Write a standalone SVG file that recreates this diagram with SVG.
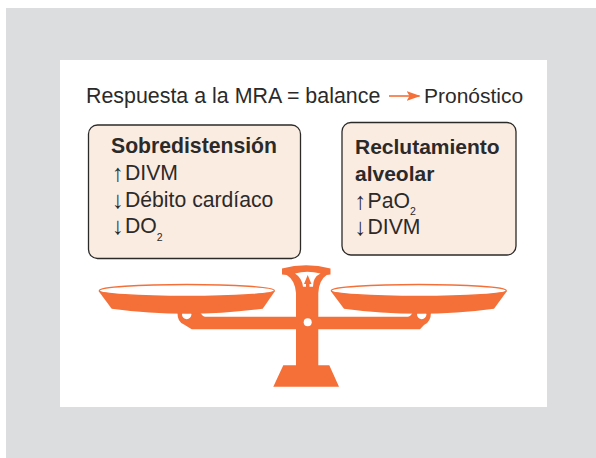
<svg xmlns="http://www.w3.org/2000/svg" width="596" height="458" viewBox="0 0 596 458">
<style>
text{font-family:"Liberation Sans",Arial,sans-serif;fill:#2b2a29;font-size:21.2px}
.b{font-weight:700}
.s{font-size:10.500px}
.a{font-size:24px}
.box{fill:#fbece2;stroke:#2b2a29;stroke-width:1.3}
.o{fill:#f47038}
.w{fill:#fff}
.rim{fill:#fff;stroke:#f47038;stroke-width:1.3}
.conn{fill:none;stroke:#f47038;stroke-width:1.6}
</style>
<defs><marker id="ah" markerUnits="userSpaceOnUse" markerWidth="14" markerHeight="10" refX="13" refY="5" orient="auto"><path d="M0 0L14 5L0 10L3 5Z" fill="#f47038"/></marker></defs>
<rect x="6" y="8" width="590" height="450" fill="#dcddde"/>
<rect x="60" y="60" width="487" height="347" fill="#fff"/>
<g id="title">
<text x="86" y="103" style="font-size:21.4px">Respuesta a la MRA = balance</text>
<text x="424" y="103" style="font-size:21px">Pronóstico</text>
</g>
<g id="connectors"><path class="conn" d="M389 96H419.500" marker-end="url(#ah)"/></g>
<g id="sobredistension">
<rect class="box" x="88.500" y="125" width="212" height="133.500" rx="9"/>
<text class="b" x="111" y="153">Sobredistensión</text>
<text x="112" y="181"><tspan class="a">↑</tspan><tspan x="125" y="180">DIVM</tspan></text>
<text x="112" y="208"><tspan class="a">↓</tspan><tspan x="125" y="207">Débito cardíaco</tspan></text>
<text x="112" y="234"><tspan class="a">↓</tspan><tspan x="125" y="233">DO</tspan><tspan class="s" dy="8">2</tspan></text>
</g>
<g id="reclutamiento">
<rect class="box" x="342" y="122.500" width="174" height="132.500" rx="9"/>
<text class="b" x="355" y="154" style="font-size:21px">Reclutamiento</text>
<text class="b" x="355" y="181" style="font-size:21px">alveolar</text>
<text x="354.500" y="209"><tspan class="a">↑</tspan><tspan x="367.500" y="208">PaO</tspan><tspan class="s" dy="7">2</tspan></text>
<text x="354.500" y="235"><tspan class="a">↓</tspan><tspan x="367.500" y="234">DIVM</tspan></text>
</g>
<g id="balanza">
<path class="o" d="M283.300 365.300H296V293Q295 280 286.700 275L282 274.500V268.500Q306 262 330.500 268.500V274.500L326.700 275Q319 280 318.300 293V316.700H408Q411 316 413 312H431Q431 322 424 325L420 329.300H318.300V365.300H329.300L339 386.700H273.300Z"/>
<path class="o" d="M296 316.700H205Q202 316 200 312H177.500Q177 322 184 324.500L191.700 329.300H296Z"/>
<circle class="w" cx="186.700" cy="314.500" r="4.700"/>
<circle class="w" cx="421.700" cy="314.500" r="4.700"/>
<path class="w" d="M295 273.500Q307 270 320.500 273.500Q313 277 313 286.700H303Q302 278 295 273.500Z"/>
<path class="o" d="M307.700 275L311.500 284H309.500V288H306V284H304Z"/>
<circle class="w" cx="307.700" cy="322.300" r="4"/>
<path class="o" d="M98.500 291L111.700 308.700Q187 319 262.700 308.700L275 291Z"/>
<path class="o" d="M330.700 291L344 308.700Q419 319 494 308.700L507 291Z"/>
<ellipse class="rim" cx="186.800" cy="290.500" rx="87.500" ry="6"/>
<ellipse class="rim" cx="418.800" cy="290.500" rx="87.500" ry="6"/>
</g>
</svg>
